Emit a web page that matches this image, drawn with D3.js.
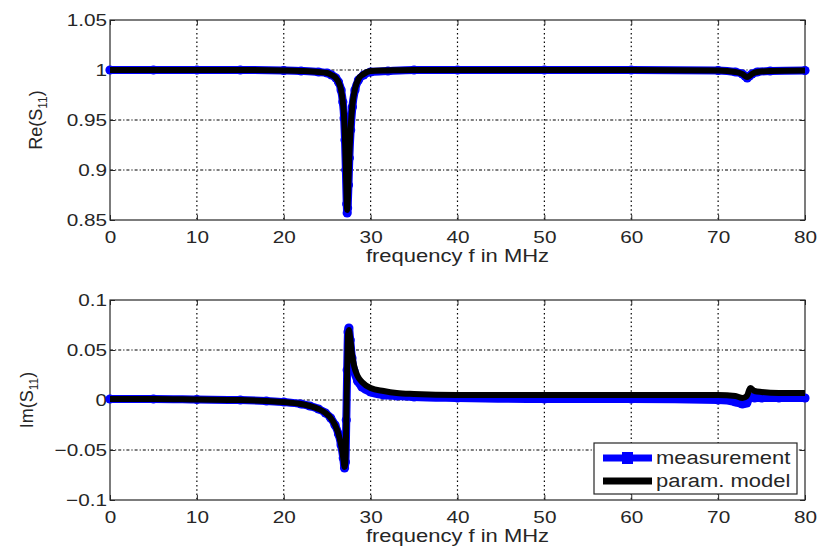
<!DOCTYPE html>
<html>
<head>
<meta charset="utf-8">
<script src="https://cdn.jsdelivr.net/npm/d3@7"></script>
<style>
body { margin: 0; background: #fff; }
svg { display: block; }
text { font-family: "Liberation Sans", Arial, sans-serif; fill: #262626; }
</style>
</head>
<body>
<svg id="svg" width="817" height="546"></svg>
<script>
// frequency axis (MHz)
var xTicks = [0, 10, 20, 30, 40, 50, 60, 70, 80];

// upper panel: Re(S11)
var reTicks = [0.85, 0.9, 0.95, 1, 1.05];
var reTickLabels = ["0.85", "0.9", "0.95", "1", "1.05"];
var reFreq = [0, 5, 10, 15, 20, 22, 24, 25, 25.5, 26, 26.3, 26.6, 26.8, 26.95, 27.05, 27.15, 27.25, 27.3,
    27.35, 27.45, 27.55, 27.7, 27.9, 28.2, 28.6, 29.2, 30, 32, 35, 40, 50, 60, 70, 72, 72.8, 73.1, 73.35,
    73.6, 73.9, 74.5, 76, 80];
var reMeas = [1, 1, 1, 1, 0.9995, 0.999, 0.998, 0.997, 0.995, 0.992, 0.988, 0.98, 0.968, 0.952, 0.93, 0.9,
    0.866, 0.857, 0.862, 0.885, 0.912, 0.94, 0.963, 0.98, 0.99, 0.995, 0.998, 0.999, 1, 1, 1, 1, 0.9995,
    0.998, 0.996, 0.994, 0.992, 0.994, 0.996, 0.998, 0.999, 0.9995];
var reModel = [1, 1, 1, 1, 0.9995, 0.999, 0.998, 0.997, 0.995, 0.992, 0.988, 0.98, 0.968, 0.953, 0.931, 0.902,
    0.868, 0.86, 0.865, 0.888, 0.914, 0.942, 0.965, 0.981, 0.991, 0.996, 0.999, 0.9995, 1, 1, 1, 1, 0.9995,
    0.998, 0.996, 0.994, 0.993, 0.994, 0.996, 0.998, 0.999, 0.9995];

// lower panel: Im(S11)
var imTicks = [-0.1, -0.05, 0, 0.05, 0.1];
var imTickLabels = ["\u22120.1", "\u22120.05", "0", "0.05", "0.1"];
var imFreq = [0, 5, 10, 15, 18, 20, 22, 23, 24, 24.8, 25.4, 25.9, 26.3, 26.6, 26.85, 27.0, 27.1, 27.2, 27.3,
    27.4, 27.5, 27.65, 27.85, 28.1, 28.5, 29, 30, 31.5, 33, 35, 40, 50, 60, 70, 72, 72.8, 73.3, 73.7, 74.2,
    75, 77, 80];
var imMeas = [0.001, 0.001, 0.0005, 0, -0.001, -0.002, -0.004, -0.006, -0.009, -0.013, -0.018, -0.025, -0.034,
    -0.045, -0.058, -0.068, -0.062, -0.02, 0.03, 0.068, 0.072, 0.06, 0.042, 0.029, 0.019, 0.013, 0.008, 0.005,
    0.004, 0.003, 0.002, 0.001, 0.001, 0, -0.002, -0.004, -0.003, 0.003, 0.002, 0.002, 0.002, 0.002];
var imModel = [0.001, 0.001, 0.0005, 0, -0.001, -0.002, -0.004, -0.006, -0.009, -0.013, -0.018, -0.025, -0.034,
    -0.045, -0.058, -0.067, -0.06, -0.02, 0.03, 0.066, 0.07, 0.062, 0.046, 0.034, 0.024, 0.018, 0.012, 0.009,
    0.007, 0.006, 0.005, 0.005, 0.005, 0.005, 0.004, 0.002, 0.004, 0.012, 0.009, 0.008, 0.007, 0.007];

var legendNames = ["measurement", "param. model"];

var svg = d3.select("#svg");
var left = 110, right = 805;
var stretchK = 1.22; // the reference glyphs are a bit wider than Arial

var x = d3.scaleLinear().domain([0, 80]).range([left, right]);

function stretch(sel) {
    sel.each(function () {
        var len = this.getComputedTextLength();
        d3.select(this).attr("textLength", len * stretchK).attr("lengthAdjust", "spacingAndGlyphs");
    });
}

function drawPanel(top, bottom, domain, yTicks, yLabels, meas, model, freq, labelMain, labelX) {
    var y = d3.scaleLinear().domain(domain).range([bottom, top]);
    var g = svg.append("g");

    // grid
    g.selectAll(".vgrid")
        .data(xTicks.slice(1, -1))
        .enter().append("line")
        .attr("x1", function (d) { return x(d); })
        .attr("x2", function (d) { return x(d); })
        .attr("y1", top).attr("y2", bottom)
        .attr("stroke", "#000").attr("stroke-width", 1.2)
        .attr("stroke-dasharray", "1.5,2.8");
    g.selectAll(".hgrid")
        .data(yTicks.slice(1, -1))
        .enter().append("line")
        .attr("x1", left).attr("x2", right)
        .attr("y1", function (d) { return y(d); })
        .attr("y2", function (d) { return y(d); })
        .attr("stroke", "#000").attr("stroke-width", 1.2)
        .attr("stroke-dasharray", "3,2,1.2,2");

    // axes with inward ticks
    var ax = g.append("g").attr("transform", "translate(0," + bottom + ")")
        .call(d3.axisBottom(x).tickValues(xTicks).tickSizeInner(-5).tickSizeOuter(0).tickPadding(11));
    g.append("g").attr("transform", "translate(0," + top + ")")
        .call(d3.axisTop(x).tickValues(xTicks).tickSizeInner(-5).tickSizeOuter(0).tickFormat(""));
    var ay = g.append("g").attr("transform", "translate(" + left + ",0)")
        .call(d3.axisLeft(y).tickValues(yTicks).tickSizeInner(-5).tickSizeOuter(0).tickPadding(3)
            .tickFormat(function (d, i) { return yLabels[i]; }));
    g.append("g").attr("transform", "translate(" + right + ",0)")
        .call(d3.axisRight(y).tickValues(yTicks).tickSizeInner(-5).tickSizeOuter(0).tickFormat(""));
    g.selectAll(".domain").remove();
    g.selectAll(".tick line").attr("stroke", "#262626");
    g.selectAll(".tick text").attr("font-size", 17).attr("fill", "#262626")
        .attr("font-family", "Liberation Sans, Arial, sans-serif");
    stretch(ax.selectAll("text"));
    stretch(ay.selectAll("text"));

    g.append("rect")
        .attr("x", left).attr("y", top)
        .attr("width", right - left).attr("height", bottom - top)
        .attr("fill", "none").attr("stroke", "#262626").attr("stroke-width", 1.2);

    var line = d3.line()
        .x(function (d) { return x(d[0]); })
        .y(function (d) { return y(d[1]); })
        .curve(d3.curveMonotoneX);

    var measPts = freq.map(function (f, i) { return [f, meas[i]]; });
    var modelPts = freq.map(function (f, i) { return [f, model[i]]; });

    g.append("path")
        .attr("d", line(measPts))
        .attr("fill", "none").attr("stroke", "#0000ff")
        .attr("stroke-width", 8).attr("stroke-linecap", "round").attr("stroke-linejoin", "round");
    g.selectAll(".marker")
        .data(measPts)
        .enter().append("circle")
        .attr("cx", function (d) { return x(d[0]); })
        .attr("cy", function (d) { return y(d[1]); })
        .attr("r", 4.6)
        .attr("fill", "#0000ff");
    g.append("path")
        .attr("d", line(modelPts))
        .attr("fill", "none").attr("stroke", "#000")
        .attr("stroke-width", 6).attr("stroke-linejoin", "round");

    // x label
    var xl = g.append("text")
        .attr("x", (left + right) / 2)
        .attr("y", bottom + 42)
        .attr("text-anchor", "middle")
        .attr("font-size", 18)
        .text("frequency f in MHz");
    stretch(xl);

    // y label with subscript
    var yl = g.append("text")
        .attr("transform", "translate(" + labelX + "," + (top + bottom) / 2 + ") rotate(-90)")
        .attr("text-anchor", "middle")
        .attr("font-size", 18);
    yl.append("tspan").text(labelMain + "(S");
    yl.append("tspan").attr("font-size", 12).attr("dy", 5).text("11");
    yl.append("tspan").attr("dy", -5).text(")");

    return g;
}

drawPanel(20, 220, [0.85, 1.05], reTicks, reTickLabels, reMeas, reModel, reFreq, "Re", 42);
var lower = drawPanel(300, 500, [-0.1, 0.1], imTicks, imTickLabels, imMeas, imModel, imFreq, "Im", 33);

// legend
var lg = lower.append("g").attr("transform", "translate(594,443)");
lg.append("rect")
    .attr("width", 203).attr("height", 51)
    .attr("fill", "#fff").attr("stroke", "#262626").attr("stroke-width", 1.2);
var entries = lg.selectAll(".entry")
    .data(legendNames)
    .enter().append("g")
    .attr("transform", function (d, i) { return "translate(0," + (15 + i * 23) + ")"; });
entries.append("line")
    .attr("x1", 9).attr("x2", 58)
    .attr("stroke", function (d, i) { return i === 0 ? "#0000ff" : "#000"; })
    .attr("stroke-width", 7);
lg.append("rect")
    .attr("x", 28).attr("y", 9).attr("width", 11).attr("height", 12)
    .attr("fill", "#0000ff");
var lt = entries.append("text")
    .attr("x", 62).attr("y", 6)
    .attr("font-size", 18)
    .text(function (d) { return d; });
stretch(lt);
</script>
</body>
</html>
